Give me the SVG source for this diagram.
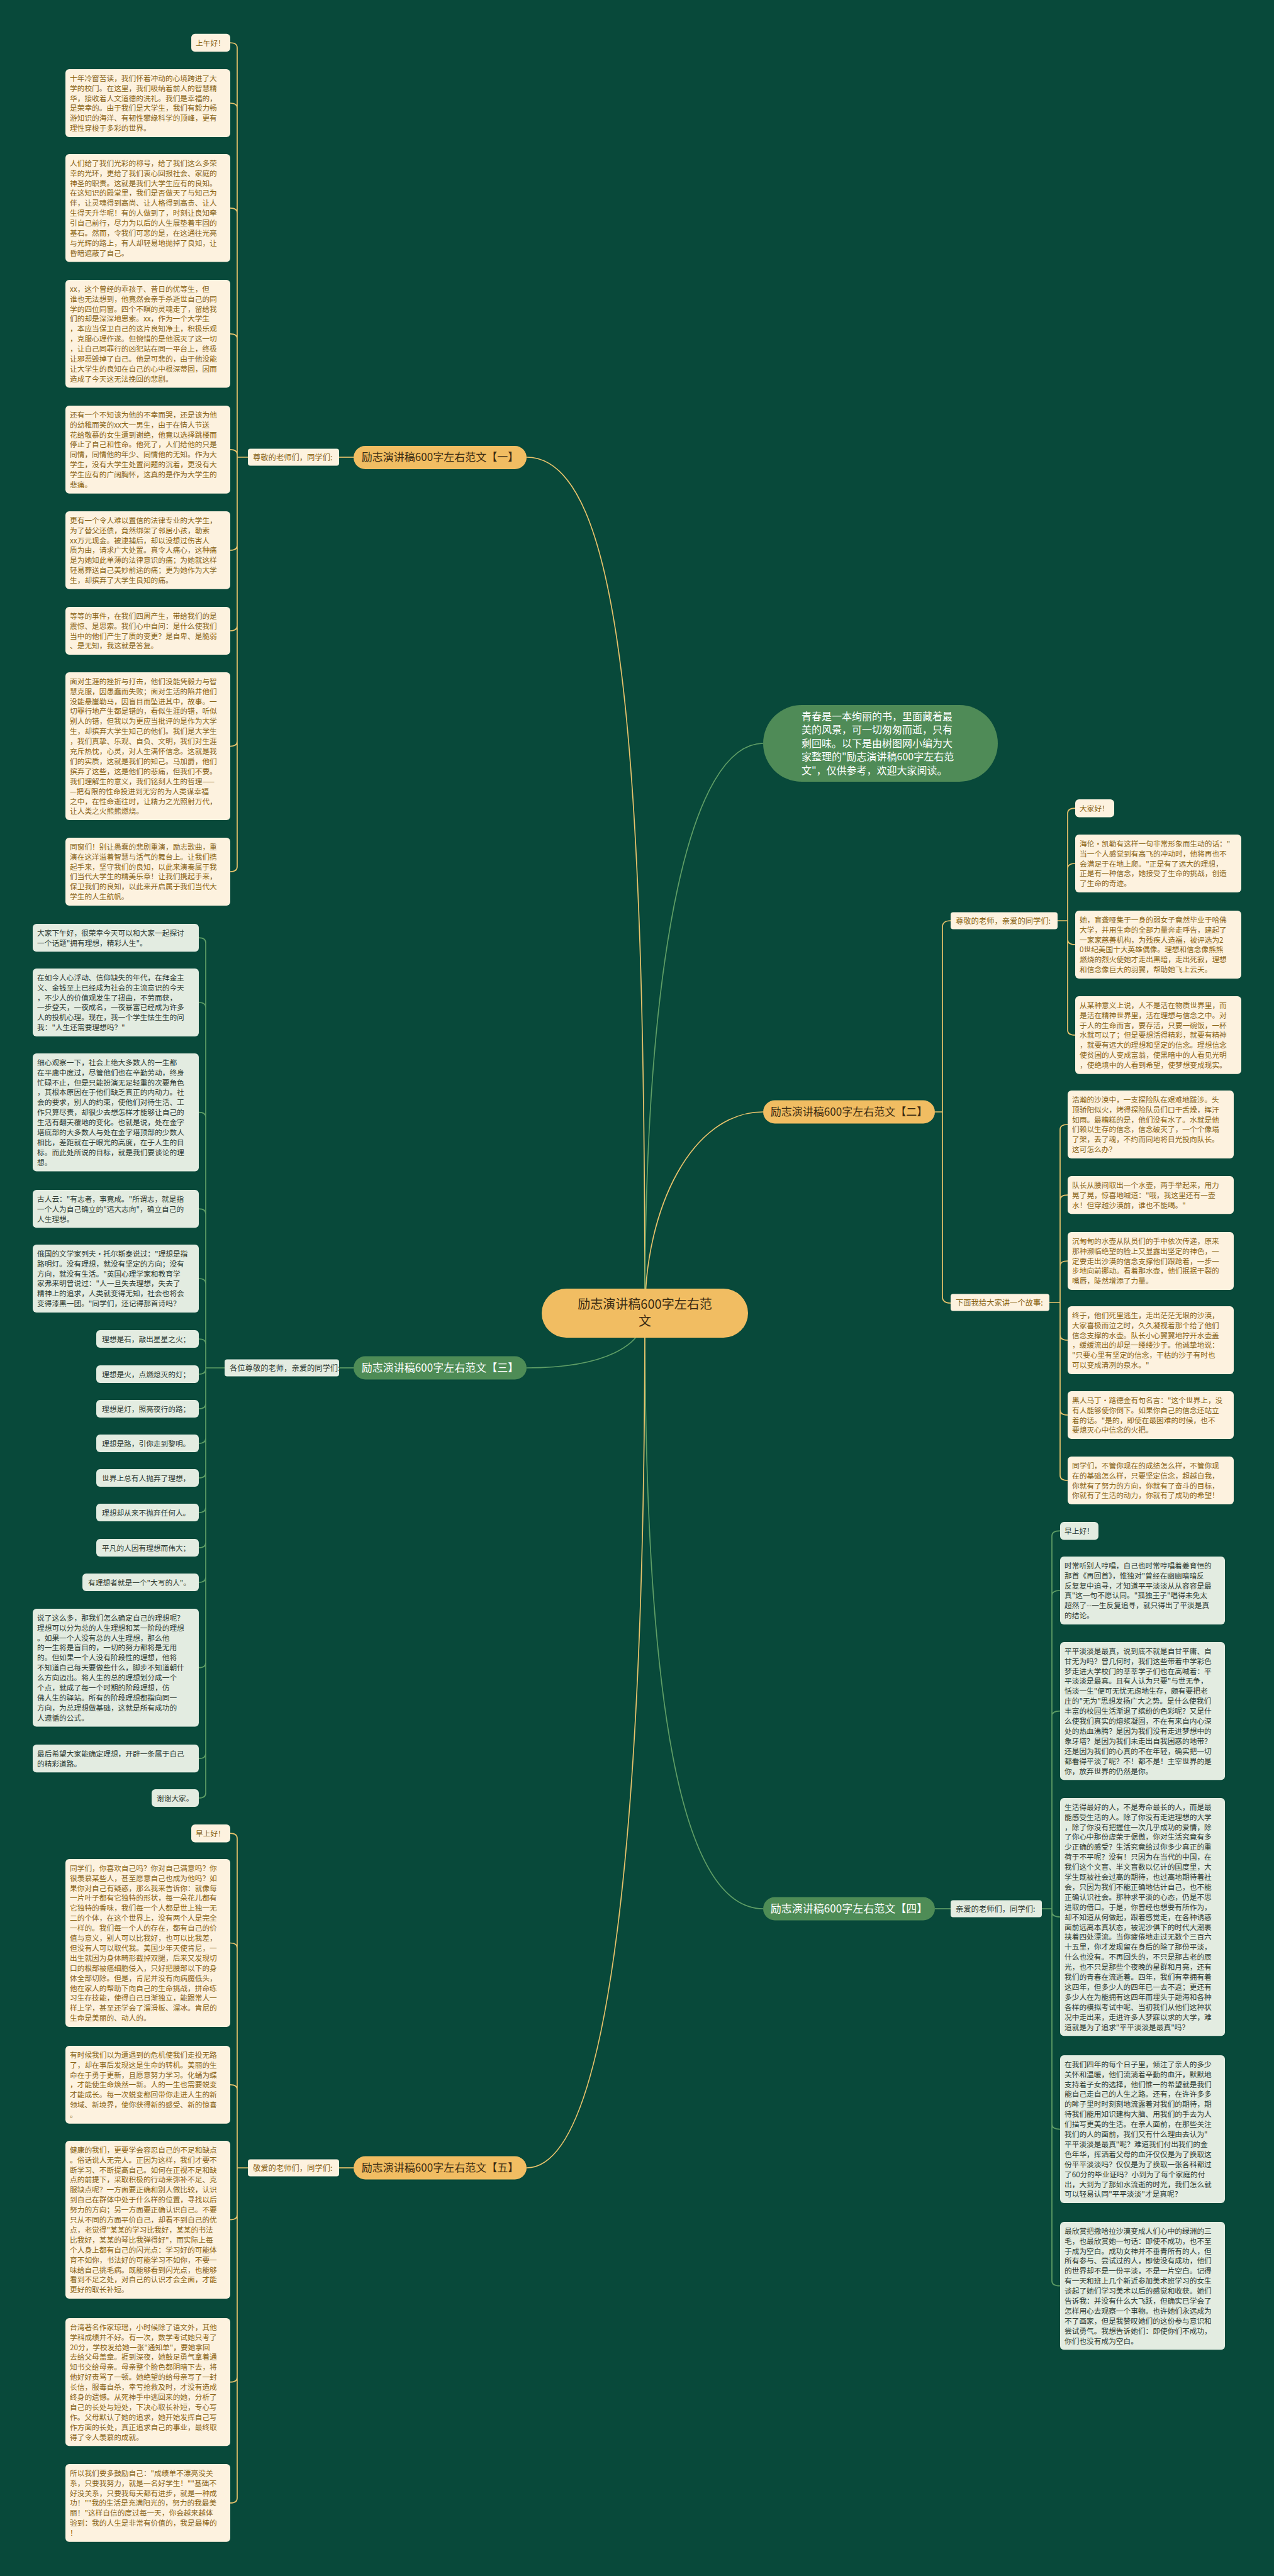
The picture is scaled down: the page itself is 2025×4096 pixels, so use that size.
<svg xmlns="http://www.w3.org/2000/svg" width="2025" height="4096" viewBox="0 0 2025 4096">
<style>
text{font-family:"Noto Sans CJK SC","Noto Sans",sans-serif}
.lc{fill:#fdf2df}
.lg{fill:#e3ece1}
.tc{font-size:11.7px;fill:#8a6416}
.tg{font-size:11.7px;fill:#2e3a32}
.lbc{font-size:12.3px;fill:#8a6416}
.lbg{font-size:12.3px;fill:#2e3a32}
.eg{fill:none;stroke:#e8c36c;stroke-width:1.7}
.er{fill:none;stroke:#5f9e66;stroke-width:1.7}
.mg{fill:#f1bd62}
.mr{fill:#4e8c56}
.mtg{font-size:17px;fill:#3b2b12;text-anchor:middle}
.mtr{font-size:17px;fill:#ffffff;text-anchor:middle}
</style>
<rect x="0" y="0" width="2025" height="4096" fill="#08493a"/>

<g id="connectors">
<path class="eg" d="M837 727 C990 727 1025 1200 1025 2088"/>
<path class="er" d="M1025 2088 C1025 1500 1100 1182 1213 1182"/>
<path class="eg" d="M1025 2088 C1025 1920 1100 1768 1213 1768"/>
<path class="er" d="M837 2175 C960 2175 1025 2140 1025 2088"/>
<path class="er" d="M1025 2088 C1025 2700 1080 3035 1213 3035"/>
<path class="eg" d="M1025 2088 C1025 2900 970 3447 837 3447"/>
<path class="eg" d="M562 727 H539"/>
<path class="er" d="M562 2175 H539"/>
<path class="eg" d="M562 3447 H539"/>
<path class="er" d="M1486 3035 H1511"/>
<path class="eg" d="M1486 1768 H1498 M1511 1464 Q1498 1464 1498 1474 V2062 Q1498 2072 1511 2072"/>
<!-- section 1 -->
<path class="eg" d="M394 727 H377 M377 76 V1378 M366 68 Q377 68 377 76 M366 164 Q377 164 377 172 M366 330.8 Q377 330.8 377 338.8 M366 530.8 Q377 530.8 377 538.8 M366 714.9 Q377 714.9 377 722.9 M366 874.9 Q377 874.9 377 866.9 M366 1003 Q377 1003 377 995 M366 1186.6 Q377 1186.6 377 1178.6 M366 1386 Q377 1386 377 1378"/>
<!-- section 3 -->
<path class="er" d="M357 2175 H327 M327 1499 V2851 M316 1491.2 Q327 1491.2 327 1499.2 M316 1594 Q327 1594 327 1602 M316 1768.7 Q327 1768.7 327 1776.7 M316 1922.1 Q327 1922.1 327 1930.1 M316 2033 Q327 2033 327 2041 M316 2129 Q327 2129 327 2137 M316 2185 Q327 2185 327 2177 M316 2240 Q327 2240 327 2232 M316 2295 Q327 2295 327 2287 M316 2350 Q327 2350 327 2342 M316 2405 Q327 2405 327 2397 M316 2461 Q327 2461 327 2453 M316 2516 Q327 2516 327 2508 M316 2651.7 Q327 2651.7 327 2643.7 M316 2796.2 Q327 2796.2 327 2788.2 M316 2859 Q327 2859 327 2851"/>
<!-- section 5 -->
<path class="eg" d="M394 3447 H377 M377 2923 V3972 M366 2915.2 Q377 2915.2 377 2923.2 M366 3089.5 Q377 3089.5 377 3097.5 M366 3314.9 Q377 3314.9 377 3322.9 M366 3529.5 Q377 3529.5 377 3521.5 M366 3787.7 Q377 3787.7 377 3779.7 M366 3979.9 Q377 3979.9 377 3971.9"/>
<!-- section 2a -->
<path class="eg" d="M1680 1464 H1697 M1697 1293 V1638 M1709 1285.2 Q1697 1285.2 1697 1293.2 M1709 1373 Q1697 1373 1697 1381 M1709 1502 Q1697 1502 1697 1494 M1709 1645.9 Q1697 1645.9 1697 1637.9"/>
<!-- section 2b -->
<path class="eg" d="M1668 2071 H1685 M1685 1796 V2346 M1697 1788 Q1685 1788 1685 1796 M1697 1900.1 Q1685 1900.1 1685 1908.1 M1697 2005 Q1685 2005 1685 2013 M1697 2131 Q1685 2131 1685 2123 M1697 2250 Q1685 2250 1685 2242 M1697 2354 Q1685 2354 1685 2346"/>
<!-- section 4 -->
<path class="er" d="M1656 3035 H1672 M1672 2442 V3627 M1685 2434.2 Q1672 2434.2 1672 2442.2 M1685 2529 Q1672 2529 1672 2537 M1685 2720.6 Q1672 2720.6 1672 2728.6 M1685 3048.1 Q1672 3048.1 1672 3040.1 M1685 3385.6 Q1672 3385.6 1672 3377.6 M1685 3634.7 Q1672 3634.7 1672 3626.7"/>
</g>

<g id="center">
<rect class="mg" x="861" y="2049" width="328" height="78" rx="39"/>
<text x="1025" y="2081" font-size="20" fill="#3b2b12" text-anchor="middle">励志演讲稿600字左右范</text>
<text x="1025" y="2108" font-size="20" fill="#3b2b12" text-anchor="middle">文</text>
</g>

<g id="intro">
<rect x="1213" y="1121" width="373" height="122" rx="61" fill="#4f8b57"/>
<text x="1274" y="1145" font-size="16" fill="#ffffff"><tspan x="1274">青春是一本绚丽的书，里面藏着最</tspan><tspan x="1274" dy="21.4">美的风景，可一切匆匆而逝，只有</tspan><tspan x="1274" dy="21.4">剩回味。以下是由树图网小编为大</tspan><tspan x="1274" dy="21.4">家整理的"励志演讲稿600字左右范</tspan><tspan x="1274" dy="21.4">文"，仅供参考，欢迎大家阅读。</tspan></text>
</g>

<g id="main1"><rect class="mg" x="562" y="709" width="275" height="37" rx="18.5"/><text class="mtg" x="699.5" y="733">励志演讲稿600字左右范文【一】</text></g>
<g id="main2"><rect class="mg" x="1213" y="1749.5" width="273" height="37" rx="18.5"/><text class="mtg" x="1349.5" y="1774">励志演讲稿600字左右范文【二】</text></g>
<g id="main3"><rect class="mr" x="562" y="2156.5" width="275" height="37" rx="18.5"/><text class="mtr" x="699.5" y="2181">励志演讲稿600字左右范文【三】</text></g>
<g id="main4"><rect class="mr" x="1213" y="3016.5" width="273" height="37" rx="18.5"/><text class="mtr" x="1349.5" y="3041">励志演讲稿600字左右范文【四】</text></g>
<g id="main5"><rect class="mg" x="562" y="3428.5" width="275" height="37" rx="18.5"/><text class="mtg" x="699.5" y="3453">励志演讲稿600字左右范文【五】</text></g>

<g id="label1"><rect class="lc" x="394" y="713.5" width="145" height="27" rx="4"/><text class="lbc" x="402" y="731.5">尊敬的老师们，同学们:</text></g>
<g id="label2a"><rect class="lc" x="1511" y="1450.5" width="170" height="27" rx="4"/><text class="lbc" x="1519" y="1468.5">尊敬的老师，亲爱的同学们:</text></g>
<g id="label2b"><rect class="lc" x="1511" y="2057.5" width="157" height="27" rx="4"/><text class="lbc" x="1519" y="2075.5">下面我给大家讲一个故事:</text></g>
<g id="label3"><rect class="lg" x="357" y="2161.5" width="182" height="27" rx="4"/><text class="lbg" x="365" y="2179.5">各位尊敬的老师，亲爱的同学们:</text></g>
<g id="label4"><rect class="lg" x="1511" y="3021.5" width="145" height="27" rx="4"/><text class="lbg" x="1519" y="3039.5">亲爱的老师们，同学们:</text></g>
<g id="label5"><rect class="lc" x="394" y="3433.5" width="145" height="27" rx="4"/><text class="lbc" x="402" y="3451.5">敬爱的老师们，同学们:</text></g>

<!-- Section 1 leaves -->
<g id="s1-1"><rect class="lc" x="304" y="53.8" width="62" height="28.4" rx="6"/><text class="tc" x="311" y="72.5">上午好！</text></g>
<g id="s1-2"><rect class="lc" x="104" y="110" width="262" height="107.9" rx="6"/><text class="tc" x="111" y="128.7"><tspan x="111">十年冷窗苦读，我们怀着冲动的心境跨进了大</tspan><tspan x="111" dy="15.9">学的校门。在这里，我们吸纳着前人的智慧精</tspan><tspan x="111" dy="15.9">华，接收着人文道德的洗礼。我们是幸福的，</tspan><tspan x="111" dy="15.9">是荣幸的。由于我们是大学生，我们有毅力畅</tspan><tspan x="111" dy="15.9">游知识的海洋、有韧性攀缘科学的顶峰，更有</tspan><tspan x="111" dy="15.9">理性穿梭于多彩的世界。</tspan></text></g>
<g id="s1-3"><rect class="lc" x="104" y="245" width="262" height="171.5" rx="6"/><text class="tc" x="111" y="263.7"><tspan x="111">人们给了我们光彩的称号，给了我们这么多荣</tspan><tspan x="111" dy="15.9">幸的光环，更给了我们衷心回报社会、家庭的</tspan><tspan x="111" dy="15.9">神圣的职责。这就是我们大学生应有的良知。</tspan><tspan x="111" dy="15.9">在这知识的殿堂里，我们是否做天了与知己为</tspan><tspan x="111" dy="15.9">伴，让灵魂得到高尚、让人格得到高贵、让人</tspan><tspan x="111" dy="15.9">生得天升华呢！有的人做到了，时刻让良知牵</tspan><tspan x="111" dy="15.9">引自己前行，尽力为以后的人生展垫着牢固的</tspan><tspan x="111" dy="15.9">基石。然而，令我们可悲的是，在这通往光亮</tspan><tspan x="111" dy="15.9">与光辉的路上，有人却轻易地抛掉了良知，让</tspan><tspan x="111" dy="15.9">昏暗遮蔽了自己。</tspan></text></g>
<g id="s1-4"><rect class="lc" x="104" y="445" width="262" height="171.5" rx="6"/><text class="tc" x="111" y="463.7"><tspan x="111">xx，这个曾经的乖孩子、昔日的优等生，但</tspan><tspan x="111" dy="15.9">谁也无法想到，他竟然会亲手杀逝世自己的同</tspan><tspan x="111" dy="15.9">学的四位同窗。四个不瞑的灵魂走了，留给我</tspan><tspan x="111" dy="15.9">们的却是深深地思索。xx，作为一个大学生</tspan><tspan x="111" dy="15.9">，本应当保卫自己的这片良知净土，积极乐观</tspan><tspan x="111" dy="15.9">，克服心理作遂。但惋惜的是他泯灭了这一切</tspan><tspan x="111" dy="15.9">，让自己同罪行的凶犯站在同一平台上，终极</tspan><tspan x="111" dy="15.9">让邪恶毁掉了自己。他是可悲的，由于他没能</tspan><tspan x="111" dy="15.9">让大学生的良知在自己的心中根深蒂固，因而</tspan><tspan x="111" dy="15.9">造成了今天这无法挽回的悲剧。</tspan></text></g>
<g id="s1-5"><rect class="lc" x="104" y="645" width="262" height="139.7" rx="6"/><text class="tc" x="111" y="663.7"><tspan x="111">还有一个不知该为他的不幸而哭，还是该为他</tspan><tspan x="111" dy="15.9">的幼稚而笑的xx大一男生，由于在情人节送</tspan><tspan x="111" dy="15.9">花给敬慕的女生遭到谢绝，他竟以选择跳楼而</tspan><tspan x="111" dy="15.9">停止了自己和性命。他死了，人们给他的只是</tspan><tspan x="111" dy="15.9">同情，同情他的年少、同情他的无知。作为大</tspan><tspan x="111" dy="15.9">学生，没有大学生处置问题的沉着，更没有大</tspan><tspan x="111" dy="15.9">学生应有的广阔胸怀，这真的是作为大学生的</tspan><tspan x="111" dy="15.9">悲痛。</tspan></text></g>
<g id="s1-6"><rect class="lc" x="104" y="813" width="262" height="123.8" rx="6"/><text class="tc" x="111" y="831.7"><tspan x="111">更有一个令人难以置信的法律专业的大学生，</tspan><tspan x="111" dy="15.9">为了替父还债，竟然绑架了邻居小孩，勒索</tspan><tspan x="111" dy="15.9">xx万元现金。被逮捕后，却以没想过伤害人</tspan><tspan x="111" dy="15.9">质为由，请求广大处置。真令人痛心，这种痛</tspan><tspan x="111" dy="15.9">是为她知此单薄的法律意识的痛；为她就这样</tspan><tspan x="111" dy="15.9">轻易葬送自己美妙前途的痛；更为她作为大学</tspan><tspan x="111" dy="15.9">生，却摈弃了大学生良知的痛。</tspan></text></g>
<g id="s1-7"><rect class="lc" x="104" y="965" width="262" height="76.1" rx="6"/><text class="tc" x="111" y="983.7"><tspan x="111">等等的事件，在我们四周产生，带给我们的是</tspan><tspan x="111" dy="15.9">震惊、是思索。我们心中自问：是什么使我们</tspan><tspan x="111" dy="15.9">当中的他们产生了质的变更？是自卑、是脆弱</tspan><tspan x="111" dy="15.9">、是无知，我这就是答复。</tspan></text></g>
<g id="s1-8"><rect class="lc" x="104" y="1069" width="262" height="235.1" rx="6"/><text class="tc" x="111" y="1087.7"><tspan x="111">面对生涯的挫折与打击，他们没能凭毅力与智</tspan><tspan x="111" dy="15.9">慧克服，因愚蠢而失败；面对生活的陷井他们</tspan><tspan x="111" dy="15.9">没能悬崖勒马，因盲目而坠进其中，故事。一</tspan><tspan x="111" dy="15.9">切罪行地产生都是错的，看似生涯的错，听似</tspan><tspan x="111" dy="15.9">别人的错，但我以为更应当批评的是作为大学</tspan><tspan x="111" dy="15.9">生，却摈弃大学生知己的他们。我们是大学生</tspan><tspan x="111" dy="15.9">，我们真挚、乐观、自负、文明，我们对生涯</tspan><tspan x="111" dy="15.9">充斥热忱，心灵，对人生满怀信念。这就是我</tspan><tspan x="111" dy="15.9">们的实质，这就是我们的知己。马加爵，他们</tspan><tspan x="111" dy="15.9">摈弃了这些，这是他们的悲痛，但我们不要。</tspan><tspan x="111" dy="15.9">我们理解生的意义，我们铭刻人生的哲理——</tspan><tspan x="111" dy="15.9">—把有限的性命投进到无穷的为人类谋幸福</tspan><tspan x="111" dy="15.9">之中，在性命逝往时，让精力之光照射万代，</tspan><tspan x="111" dy="15.9">让人类之火熊熊燃烧。</tspan></text></g>
<g id="s1-9"><rect class="lc" x="104" y="1332" width="262" height="107.9" rx="6"/><text class="tc" x="111" y="1350.7"><tspan x="111">同窗们！别让愚蠢的悲剧重演，励志歌曲，重</tspan><tspan x="111" dy="15.9">演在这洋溢着智慧与活气的舞台上。让我们携</tspan><tspan x="111" dy="15.9">起手来，坚守我们的良知，以此来演奏属于我</tspan><tspan x="111" dy="15.9">们当代大学生的精美乐章！让我们携起手来，</tspan><tspan x="111" dy="15.9">保卫我们的良知，以此来开启属于我们当代大</tspan><tspan x="111" dy="15.9">学生的人生航帆。</tspan></text></g>

<!-- Section 3 leaves -->
<g id="s3-1"><rect class="lg" x="52" y="1469" width="264" height="44.3" rx="6"/><text class="tg" x="59" y="1487.7"><tspan x="59">大家下午好，很荣幸今天可以和大家一起探讨</tspan><tspan x="59" dy="15.9">一个话题"拥有理想，精彩人生"。</tspan></text></g>
<g id="s3-2"><rect class="lg" x="52" y="1540" width="264" height="107.9" rx="6"/><text class="tg" x="59" y="1558.7"><tspan x="59">在如今人心浮动、信仰缺失的年代，在拜金主</tspan><tspan x="59" dy="15.9">义、金钱至上已经成为社会的主流意识的今天</tspan><tspan x="59" dy="15.9">，不少人的价值观发生了扭曲，不劳而获，</tspan><tspan x="59" dy="15.9">一步登天，一夜成名，一夜暴富已经成为许多</tspan><tspan x="59" dy="15.9">人的投机心理。现在，我一个学生怯生生的问</tspan><tspan x="59" dy="15.9">我："人生还需要理想吗？"</tspan></text></g>
<g id="s3-3"><rect class="lg" x="52" y="1675" width="264" height="187.4" rx="6"/><text class="tg" x="59" y="1693.7"><tspan x="59">细心观察一下，社会上绝大多数人的一生都</tspan><tspan x="59" dy="15.9">在平庸中度过，尽管他们也在辛勤劳动，终身</tspan><tspan x="59" dy="15.9">忙碌不止，但是只能扮演无足轻重的次要角色</tspan><tspan x="59" dy="15.9">，其根本原因在于他们缺乏真正的内动力。社</tspan><tspan x="59" dy="15.9">会的要求，别人的约束，使他们对待生活、工</tspan><tspan x="59" dy="15.9">作只算尽责，却很少去想怎样才能够让自己的</tspan><tspan x="59" dy="15.9">生活有翻天覆地的变化。也就是说，处在金字</tspan><tspan x="59" dy="15.9">塔底部的大多数人与处在金字塔顶部的少数人</tspan><tspan x="59" dy="15.9">相比，差距就在于眼光的高度，在于人生的目</tspan><tspan x="59" dy="15.9">标。而此处所说的目标，就是我们要谈论的理</tspan><tspan x="59" dy="15.9">想。</tspan></text></g>
<g id="s3-4"><rect class="lg" x="52" y="1892" width="264" height="60.2" rx="6"/><text class="tg" x="59" y="1910.7"><tspan x="59">古人云："有志者，事竟成。"所谓志，就是指</tspan><tspan x="59" dy="15.9">一个人为自己确立的"远大志向"，确立自己的</tspan><tspan x="59" dy="15.9">人生理想。</tspan></text></g>
<g id="s3-5"><rect class="lg" x="52" y="1979" width="264" height="107.9" rx="6"/><text class="tg" x="59" y="1997.7"><tspan x="59">俄国的文学家列夫·托尔斯泰说过："理想是指</tspan><tspan x="59" dy="15.9">路明灯。没有理想，就没有坚定的方向；没有</tspan><tspan x="59" dy="15.9">方向，就没有生活。"英国心理学家和教育学</tspan><tspan x="59" dy="15.9">家弗来明曾说过："人一旦失去理想，失去了</tspan><tspan x="59" dy="15.9">精神上的追求，人类就变得无知，社会也将会</tspan><tspan x="59" dy="15.9">变得漆黑一团。"同学们，还记得那首诗吗？</tspan></text></g>
<g id="s3-6"><rect class="lg" x="153" y="2115" width="163" height="28" rx="6"/><text class="tg" x="162" y="2133.7">理想是石，敲出星星之火；</text></g>
<g id="s3-7"><rect class="lg" x="153" y="2171" width="163" height="28" rx="6"/><text class="tg" x="162" y="2189.7">理想是火，点燃熄灭的灯；</text></g>
<g id="s3-8"><rect class="lg" x="153" y="2226" width="163" height="28" rx="6"/><text class="tg" x="162" y="2244.7">理想是灯，照亮夜行的路；</text></g>
<g id="s3-9"><rect class="lg" x="153" y="2281" width="163" height="28" rx="6"/><text class="tg" x="162" y="2299.7">理想是路，引你走到黎明。</text></g>
<g id="s3-10"><rect class="lg" x="153" y="2336" width="163" height="28" rx="6"/><text class="tg" x="162" y="2354.7">世界上总有人抛弃了理想，</text></g>
<g id="s3-11"><rect class="lg" x="153" y="2391" width="163" height="28" rx="6"/><text class="tg" x="162" y="2409.7">理想却从来不抛弃任何人。</text></g>
<g id="s3-12"><rect class="lg" x="153" y="2447" width="163" height="28" rx="6"/><text class="tg" x="162" y="2465.7">平凡的人因有理想而伟大；</text></g>
<g id="s3-13"><rect class="lg" x="131" y="2502" width="185" height="28" rx="6"/><text class="tg" x="140" y="2520.7">有理想者就是一个"大写的人"。</text></g>
<g id="s3-14"><rect class="lg" x="52" y="2558" width="264" height="187.4" rx="6"/><text class="tg" x="59" y="2576.7"><tspan x="59">说了这么多，那我们怎么确定自己的理想呢？</tspan><tspan x="59" dy="15.9">理想可以分为总的人生理想和某一阶段的理想</tspan><tspan x="59" dy="15.9">。如果一个人没有总的人生理想，那么他</tspan><tspan x="59" dy="15.9">的一生将是盲目的，一切的努力都将是无用</tspan><tspan x="59" dy="15.9">的。但如果一个人没有阶段性的理想，他将</tspan><tspan x="59" dy="15.9">不知道自己每天要做些什么，脚步不知道朝什</tspan><tspan x="59" dy="15.9">么方向迈出。将人生的总的理想划分成一个</tspan><tspan x="59" dy="15.9">个点，就成了每一个时期的阶段理想，仿</tspan><tspan x="59" dy="15.9">佛人生的驿站。所有的阶段理想都指向同一</tspan><tspan x="59" dy="15.9">方向，为总理想做基础，这就是所有成功的</tspan><tspan x="59" dy="15.9">人遵循的公式。</tspan></text></g>
<g id="s3-15"><rect class="lg" x="52" y="2774" width="264" height="44.3" rx="6"/><text class="tg" x="59" y="2792.7"><tspan x="59">最后希望大家能确定理想，开辟一条属于自己</tspan><tspan x="59" dy="15.9">的精彩道路。</tspan></text></g>
<g id="s3-16"><rect class="lg" x="241" y="2845" width="75" height="28" rx="6"/><text class="tg" x="249" y="2863.7">谢谢大家。</text></g>

<!-- Section 5 leaves -->
<g id="s5-1"><rect class="lc" x="304" y="2901" width="62" height="28.4" rx="6"/><text class="tc" x="311" y="2919.7">早上好！</text></g>
<g id="s5-2"><rect class="lc" x="104" y="2956" width="262" height="266.9" rx="6"/><text class="tc" x="111" y="2974.7"><tspan x="111">同学们，你喜欢自己吗？你对自己满意吗？你</tspan><tspan x="111" dy="15.9">很羡慕某些人，甚至愿意自己也成为他吗？如</tspan><tspan x="111" dy="15.9">果你对自己有疑惑，那么我来告诉你：就像每</tspan><tspan x="111" dy="15.9">一片叶子都有它独特的形状，每一朵花儿都有</tspan><tspan x="111" dy="15.9">它独特的香味，我们每一个人都是世上独一无</tspan><tspan x="111" dy="15.9">二的个体，在这个世界上，没有两个人是完全</tspan><tspan x="111" dy="15.9">一样的。我们每一个人的存在，都有自己的价</tspan><tspan x="111" dy="15.9">值与意义，别人可以比我好，也可以比我差，</tspan><tspan x="111" dy="15.9">但没有人可以取代我。美国少年天使肯尼，一</tspan><tspan x="111" dy="15.9">出生就因为身体畸形截掉双腿，后来又发现切</tspan><tspan x="111" dy="15.9">口的根部被癌细胞侵入，只好把腰部以下的身</tspan><tspan x="111" dy="15.9">体全部切除。但是，肯尼并没有向病魔低头，</tspan><tspan x="111" dy="15.9">他在家人的帮助下向自己的生命挑战，拼命练</tspan><tspan x="111" dy="15.9">习生存技能，使得自己日渐独立，能跟常人一</tspan><tspan x="111" dy="15.9">样上学，甚至还学会了溜滑板、溜冰。肯尼的</tspan><tspan x="111" dy="15.9">生命是美丽的、动人的。</tspan></text></g>
<g id="s5-3"><rect class="lc" x="104" y="3253" width="262" height="123.8" rx="6"/><text class="tc" x="111" y="3271.7"><tspan x="111">有时候我们以为遭遇到的危机使我们走投无路</tspan><tspan x="111" dy="15.9">了，却在事后发现这是生命的转机。美丽的生</tspan><tspan x="111" dy="15.9">命在于勇于更新，且愿意努力学习。化蛹为蝶</tspan><tspan x="111" dy="15.9">，才能使生命焕然一新。人的一生也需要蜕变</tspan><tspan x="111" dy="15.9">才能成长。每一次蜕变都回带你走进人生的新</tspan><tspan x="111" dy="15.9">领域、新境界，使你获得新的感受、新的惊喜</tspan><tspan x="111" dy="15.9">。</tspan></text></g>
<g id="s5-4"><rect class="lc" x="104" y="3404" width="262" height="251" rx="6"/><text class="tc" x="111" y="3422.7"><tspan x="111">健康的我们，更要学会容忍自己的不足和缺点</tspan><tspan x="111" dy="15.9">。俗话说人无完人。正因为这样，我们才要不</tspan><tspan x="111" dy="15.9">断学习、不断提高自己。如何在正视不足和缺</tspan><tspan x="111" dy="15.9">点的前提下，采取积极的行动来弥补不足、克</tspan><tspan x="111" dy="15.9">服缺点呢？一方面要正确和别人做比较，认识</tspan><tspan x="111" dy="15.9">到自己在群体中处于什么样的位置，寻找以后</tspan><tspan x="111" dy="15.9">努力的方向；另一方面要正确认识自己。不要</tspan><tspan x="111" dy="15.9">只从不同的方面平价自己，却看不到自己的优</tspan><tspan x="111" dy="15.9">点，老觉得"某某的学习比我好，某某的书法</tspan><tspan x="111" dy="15.9">比我好，某某的琴比我弹得好"，而实际上每</tspan><tspan x="111" dy="15.9">个人身上都有自己的闪光点：学习好的可能体</tspan><tspan x="111" dy="15.9">育不如你，书法好的可能学习不如你，不要一</tspan><tspan x="111" dy="15.9">味给自己挑毛病。既能够看到闪光点，也能够</tspan><tspan x="111" dy="15.9">看到不足之处，对自己的认识才会全面，才能</tspan><tspan x="111" dy="15.9">更好的取长补短。</tspan></text></g>
<g id="s5-5"><rect class="lc" x="104" y="3686" width="262" height="203.3" rx="6"/><text class="tc" x="111" y="3704.7"><tspan x="111">台湾著名作家琼瑶，小时候除了语文外，其他</tspan><tspan x="111" dy="15.9">学科成绩并不好。有一次，数学考试她只考了</tspan><tspan x="111" dy="15.9">20分，学校发给她一张"通知单"，要她拿回</tspan><tspan x="111" dy="15.9">去给父母盖章。捱到深夜，她鼓足勇气拿着通</tspan><tspan x="111" dy="15.9">知书交给母亲。母亲整个脸色都阴暗下去，将</tspan><tspan x="111" dy="15.9">他好好责骂了一顿。她绝望的给母亲写了一封</tspan><tspan x="111" dy="15.9">长信，服毒自杀，幸亏抢救及时，才没有造成</tspan><tspan x="111" dy="15.9">终身的遗憾。从死神手中逃回来的她，分析了</tspan><tspan x="111" dy="15.9">自己的长处与短处，下决心取长补短，专心写</tspan><tspan x="111" dy="15.9">作。父母默认了她的追求，她开始发挥自己写</tspan><tspan x="111" dy="15.9">作方面的长处，真正追求自己的事业，最终取</tspan><tspan x="111" dy="15.9">得了令人羡慕的成就。</tspan></text></g>
<g id="s5-6"><rect class="lc" x="104" y="3918" width="262" height="123.8" rx="6"/><text class="tc" x="111" y="3936.7"><tspan x="111">所以我们要多鼓励自己："成绩单不漂亮没关</tspan><tspan x="111" dy="15.9">系，只要我努力，就是一名好学生！""基础不</tspan><tspan x="111" dy="15.9">好没关系，只要我每天都有进步，就是一种成</tspan><tspan x="111" dy="15.9">功！""我的生活是充满阳光的，努力的我最美</tspan><tspan x="111" dy="15.9">丽！"这样自信的度过每一天，你会越来越体</tspan><tspan x="111" dy="15.9">验到：我的人生是非常有价值的，我是最棒的</tspan><tspan x="111" dy="15.9">！</tspan></text></g>

<!-- Section 2a leaves -->
<g id="s2a-1"><rect class="lc" x="1709" y="1271" width="62" height="28.4" rx="6"/><text class="tc" x="1716" y="1289.7">大家好！</text></g>
<g id="s2a-2"><rect class="lc" x="1709" y="1327" width="264" height="92" rx="6"/><text class="tc" x="1716" y="1345.7"><tspan x="1716">海伦·凯勒有这样一句非常形象而生动的话："</tspan><tspan x="1716" dy="15.9">当一个人感觉到有高飞的冲动时，他将再也不</tspan><tspan x="1716" dy="15.9">会满足于在地上爬。"正是有了远大的理想，</tspan><tspan x="1716" dy="15.9">正是有一种信念，她接受了生命的挑战，创造</tspan><tspan x="1716" dy="15.9">了生命的奇迹。</tspan></text></g>
<g id="s2a-3"><rect class="lc" x="1709" y="1448" width="264" height="107.9" rx="6"/><text class="tc" x="1716" y="1466.7"><tspan x="1716">她，盲聋哑集于一身的弱女子竟然毕业于哈佛</tspan><tspan x="1716" dy="15.9">大学，并用生命的全部力量奔走呼告，建起了</tspan><tspan x="1716" dy="15.9">一家家慈善机构，为残疾人造福，被评选为2</tspan><tspan x="1716" dy="15.9">0世纪美国十大英雄偶像。理想和信念像熊熊</tspan><tspan x="1716" dy="15.9">燃烧的烈火使她才走出黑暗，走出死寂，理想</tspan><tspan x="1716" dy="15.9">和信念像巨大的羽翼，帮助她飞上云天。</tspan></text></g>
<g id="s2a-4"><rect class="lc" x="1709" y="1584" width="264" height="123.8" rx="6"/><text class="tc" x="1716" y="1602.7"><tspan x="1716">从某种意义上说，人不是活在物质世界里，而</tspan><tspan x="1716" dy="15.9">是活在精神世界里，活在理想与信念之中。对</tspan><tspan x="1716" dy="15.9">于人的生命而言，要存活，只要一碗饭，一杯</tspan><tspan x="1716" dy="15.9">水就可以了；但是要想活得精彩，就要有精神</tspan><tspan x="1716" dy="15.9">，就要有远大的理想和坚定的信念。理想信念</tspan><tspan x="1716" dy="15.9">使贫困的人变成富翁，使黑暗中的人看见光明</tspan><tspan x="1716" dy="15.9">，使绝境中的人看到希望，使梦想变成现实。</tspan></text></g>

<!-- Section 2b leaves -->
<g id="s2b-1"><rect class="lc" x="1697" y="1734" width="264" height="107.9" rx="6"/><text class="tc" x="1704" y="1752.7"><tspan x="1704">浩瀚的沙漠中，一支探险队在艰难地跋涉。头</tspan><tspan x="1704" dy="15.9">顶骄阳似火，烤得探险队员们口干舌燥，挥汗</tspan><tspan x="1704" dy="15.9">如雨。最糟糕的是，他们没有水了。水就是他</tspan><tspan x="1704" dy="15.9">们赖以生存的信念，信念破灭了，一个个像塌</tspan><tspan x="1704" dy="15.9">了架，丢了魂，不约而同地将目光投向队长。</tspan><tspan x="1704" dy="15.9">这可怎么办？</tspan></text></g>
<g id="s2b-2"><rect class="lc" x="1697" y="1870" width="264" height="60.2" rx="6"/><text class="tc" x="1704" y="1888.7"><tspan x="1704">队长从腰间取出一个水壶，两手举起来，用力</tspan><tspan x="1704" dy="15.9">晃了晃，惊喜地喊道："哦，我这里还有一壶</tspan><tspan x="1704" dy="15.9">水！但穿越沙漠前，谁也不能喝。"</tspan></text></g>
<g id="s2b-3"><rect class="lc" x="1697" y="1959" width="264" height="92" rx="6"/><text class="tc" x="1704" y="1977.7"><tspan x="1704">沉甸甸的水壶从队员们的手中依次传递，原来</tspan><tspan x="1704" dy="15.9">那种濒临绝望的脸上又显露出坚定的神色，一</tspan><tspan x="1704" dy="15.9">定要走出沙漠的信念支撑他们跟跄着，一步一</tspan><tspan x="1704" dy="15.9">步地向前挪动。看着那水壶，他们抿抿干裂的</tspan><tspan x="1704" dy="15.9">嘴唇，陡然增添了力量。</tspan></text></g>
<g id="s2b-4"><rect class="lc" x="1697" y="2077" width="264" height="107.9" rx="6"/><text class="tc" x="1704" y="2095.7"><tspan x="1704">终于，他们死里逃生，走出茫茫无垠的沙漠，</tspan><tspan x="1704" dy="15.9">大家喜极而泣之时，久久凝视着那个给了他们</tspan><tspan x="1704" dy="15.9">信念支撑的水壶。队长小心翼翼地拧开水壶盖</tspan><tspan x="1704" dy="15.9">，缓缓流出的却是一缕缕沙子。他诚挚地说：</tspan><tspan x="1704" dy="15.9">"只要心里有坚定的信念，干枯的沙子有时也</tspan><tspan x="1704" dy="15.9">可以变成清冽的泉水。"</tspan></text></g>
<g id="s2b-5"><rect class="lc" x="1697" y="2212" width="264" height="76.1" rx="6"/><text class="tc" x="1704" y="2230.7"><tspan x="1704">黑人马丁·路德金有句名言："这个世界上，没</tspan><tspan x="1704" dy="15.9">有人能够使你倒下。如果你自己的信念还站立</tspan><tspan x="1704" dy="15.9">着的话。"是的，即使在最困难的时候，也不</tspan><tspan x="1704" dy="15.9">要熄灭心中信念的火把。</tspan></text></g>
<g id="s2b-6"><rect class="lc" x="1697" y="2316" width="264" height="76.1" rx="6"/><text class="tc" x="1704" y="2334.7"><tspan x="1704">同学们，不管你现在的成绩怎么样，不管你现</tspan><tspan x="1704" dy="15.9">在的基础怎么样，只要坚定信念，超越自我，</tspan><tspan x="1704" dy="15.9">你就有了努力的方向，你就有了奋斗的目标，</tspan><tspan x="1704" dy="15.9">你就有了生活的动力，你就有了成功的希望！</tspan></text></g>

<!-- Section 4 leaves -->
<g id="s4-1"><rect class="lg" x="1685" y="2420" width="61" height="28.4" rx="6"/><text class="tg" x="1692" y="2438.7">早上好！</text></g>
<g id="s4-2"><rect class="lg" x="1685" y="2475" width="262" height="107.9" rx="6"/><text class="tg" x="1692" y="2493.7"><tspan x="1692">时常听别人哼唱，自己也时常哼唱着姜育恒的</tspan><tspan x="1692" dy="15.9">那首《再回首》，惟独对"曾经在幽幽暗暗反</tspan><tspan x="1692" dy="15.9">反复复中追寻，才知道平平淡淡从从容容是最</tspan><tspan x="1692" dy="15.9">真"这一句不愿认同。"孤独王子"唱得未免太</tspan><tspan x="1692" dy="15.9">超然了--一生反复追寻，就只得出了平淡是真</tspan><tspan x="1692" dy="15.9">的结论。</tspan></text></g>
<g id="s4-3"><rect class="lg" x="1685" y="2611" width="262" height="219.2" rx="6"/><text class="tg" x="1692" y="2629.7"><tspan x="1692">平平淡淡是最真，说到底不就是自甘平庸、自</tspan><tspan x="1692" dy="15.9">甘无为吗？曾几何时，我们这些带着中学彩色</tspan><tspan x="1692" dy="15.9">梦走进大学校门的莘莘学子们也在高喊着：平</tspan><tspan x="1692" dy="15.9">平淡淡是最真。且有人认为只要"与世无争，</tspan><tspan x="1692" dy="15.9">恬淡一生"便可无忧无虑地生存，颇有要把老</tspan><tspan x="1692" dy="15.9">庄的"无为"思想发扬广大之势。是什么使我们</tspan><tspan x="1692" dy="15.9">丰富的校园生活渐退了缤纷的色彩呢？又是什</tspan><tspan x="1692" dy="15.9">么使我们真实的熔浆凝固，不在有来自内心深</tspan><tspan x="1692" dy="15.9">处的热血沸腾？是因为我们没有走进梦想中的</tspan><tspan x="1692" dy="15.9">象牙塔？是因为我们未走出自我困惑的地带？</tspan><tspan x="1692" dy="15.9">还是因为我们的心真的不在年轻，确实把一切</tspan><tspan x="1692" dy="15.9">都看得平淡了呢？不！都不是！主宰世界的是</tspan><tspan x="1692" dy="15.9">你，放弃世界的仍然是你。</tspan></text></g>
<g id="s4-4"><rect class="lg" x="1685" y="2859" width="262" height="378.2" rx="6"/><text class="tg" x="1692" y="2877.7"><tspan x="1692">生活得最好的人，不是寿命最长的人，而是最</tspan><tspan x="1692" dy="15.9">能感受生活的人。除了你没有走进理想的大学</tspan><tspan x="1692" dy="15.9">，除了你没有把握住一次几乎成功的爱情，除</tspan><tspan x="1692" dy="15.9">了你心中那份虚荣于倨傲，你对生活究竟有多</tspan><tspan x="1692" dy="15.9">少正确的感受？生活究竟给过你多少真正的重</tspan><tspan x="1692" dy="15.9">荷于不平呢？没有！只因为在当代的中国，在</tspan><tspan x="1692" dy="15.9">我们这个文盲、半文盲数以亿计的国度里，大</tspan><tspan x="1692" dy="15.9">学生既被社会过高的期待，也过高地期待着社</tspan><tspan x="1692" dy="15.9">会，只因为我们不能正确地估计自己，也不能</tspan><tspan x="1692" dy="15.9">正确认识社会。那种求平淡的心态，仍是不思</tspan><tspan x="1692" dy="15.9">进取的借口。于是，你曾经也想要有所作为，</tspan><tspan x="1692" dy="15.9">却不知道从何做起，跟着感觉走，在各种诱惑</tspan><tspan x="1692" dy="15.9">面前远离本真状态，被泥沙俱下的时代大潮裹</tspan><tspan x="1692" dy="15.9">挟着四处漂流。当你疲倦地走过无数个三百六</tspan><tspan x="1692" dy="15.9">十五里，你才发现留在身后的除了那份平淡，</tspan><tspan x="1692" dy="15.9">什么也没有。不再回头的，不只是那古老的辰</tspan><tspan x="1692" dy="15.9">光，也不只是那些个夜晚的星群和月亮，还有</tspan><tspan x="1692" dy="15.9">我们的青春在流逝着。四年，我们有幸拥有着</tspan><tspan x="1692" dy="15.9">这四年，但多少人的四年已一去不返；更还有</tspan><tspan x="1692" dy="15.9">多少人在为能拥有这四年而埋头于题海和各种</tspan><tspan x="1692" dy="15.9">各样的模拟考试中呢、当初我们从他们这种状</tspan><tspan x="1692" dy="15.9">况中走出来，走进许多人梦寐以求的大学，难</tspan><tspan x="1692" dy="15.9">道就是为了追求"平平淡淡是最真"吗？</tspan></text></g>
<g id="s4-5"><rect class="lg" x="1685" y="3268" width="262" height="235.1" rx="6"/><text class="tg" x="1692" y="3286.7"><tspan x="1692">在我们四年的每个日子里，倾注了亲人的多少</tspan><tspan x="1692" dy="15.9">关怀和温暖，他们流淌着辛勤的血汗，默默地</tspan><tspan x="1692" dy="15.9">支持着子女的选择，他们惟一的希望就是我们</tspan><tspan x="1692" dy="15.9">能自己走自己的人生之路。还有，在许许多多</tspan><tspan x="1692" dy="15.9">的眸子里时时刻刻地流露着对我们的期待，期</tspan><tspan x="1692" dy="15.9">待我们能用知识建构大脑、用我们的手去为人</tspan><tspan x="1692" dy="15.9">们描写更美的生活。在亲人面前，在那些关注</tspan><tspan x="1692" dy="15.9">我们的人的面前，我们又有什么理由去认为"</tspan><tspan x="1692" dy="15.9">平平淡淡是最真"呢？难道我们付出我们的金</tspan><tspan x="1692" dy="15.9">色年华，挥洒着父母的血汗仅仅是为了换取这</tspan><tspan x="1692" dy="15.9">份平平淡淡吗？仅仅是为了换取一张各科都过</tspan><tspan x="1692" dy="15.9">了60分的毕业证吗？小到为了每个家庭的付</tspan><tspan x="1692" dy="15.9">出，大到为了那如水流逝的时光，我们怎么就</tspan><tspan x="1692" dy="15.9">可以轻易认同"平平淡淡"才是真呢？</tspan></text></g>
<g id="s4-6"><rect class="lg" x="1685" y="3533" width="262" height="203.3" rx="6"/><text class="tg" x="1692" y="3551.7"><tspan x="1692">最欣赏把撒哈拉沙漠变成人们心中的绿洲的三</tspan><tspan x="1692" dy="15.9">毛，也最欣赏她一句话：即使不成功，也不至</tspan><tspan x="1692" dy="15.9">于成为空白。成功女神并不垂青所有的人，但</tspan><tspan x="1692" dy="15.9">所有参与、尝试过的人，即使没有成功，他们</tspan><tspan x="1692" dy="15.9">的世界却不是一份平淡，不是一片空白。记得</tspan><tspan x="1692" dy="15.9">有一天和班上几个新近参加美术班学习的女生</tspan><tspan x="1692" dy="15.9">谈起了她们学习美术以后的感觉和收获。她们</tspan><tspan x="1692" dy="15.9">告诉我：并没有什么大飞跃，但确实已学会了</tspan><tspan x="1692" dy="15.9">怎样用心去观察一个事物。也许她们永远成为</tspan><tspan x="1692" dy="15.9">不了画家，但是我赞叹她们的这份参与意识和</tspan><tspan x="1692" dy="15.9">尝试勇气。我想告诉她们：即使你们不成功，</tspan><tspan x="1692" dy="15.9">你们也没有成为空白。</tspan></text></g>
</svg>
